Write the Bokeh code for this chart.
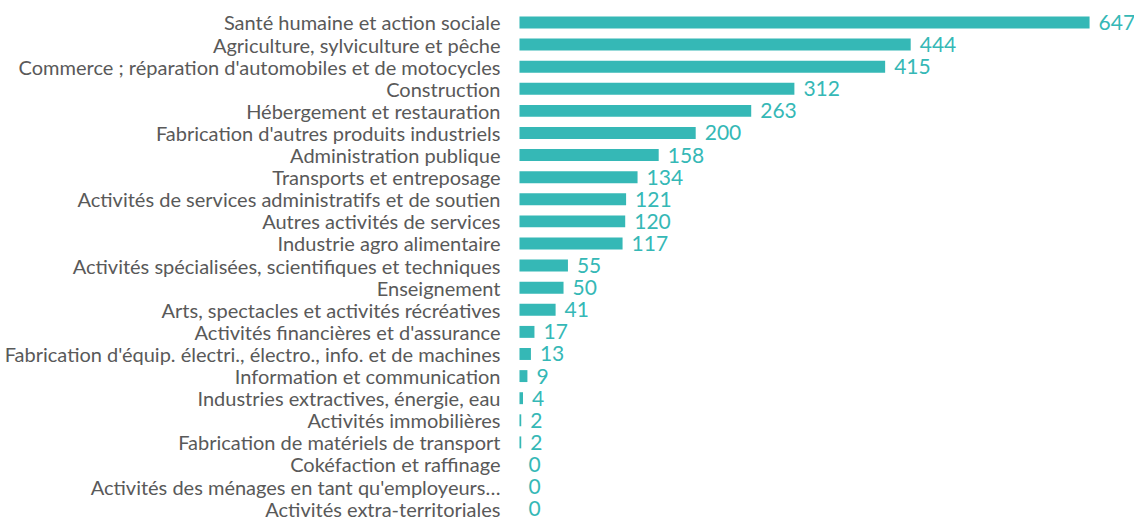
from bokeh.plotting import figure
from bokeh.models import ColumnDataSource, Range1d
from bokeh.core.properties import value
from bokeh.embed import file_html
from bokeh.resources import INLINE

categories = [
    "Santé humaine et action sociale",
    "Agriculture, sylviculture et pêche",
    "Commerce ; réparation d'automobiles et de motocycles",
    "Construction",
    "Hébergement et restauration",
    "Fabrication d'autres produits industriels",
    "Administration publique",
    "Transports et entreposage",
    "Activités de services administratifs et de soutien",
    "Autres activités de services",
    "Industrie agro alimentaire",
    "Activités spécialisées, scientifiques et techniques",
    "Enseignement",
    "Arts, spectacles et activités récréatives",
    "Activités financières et d'assurance",
    "Fabrication d'équip. électri., électro., info. et de machines",
    "Information et communication",
    "Industries extractives, énergie, eau",
    "Activités immobilières",
    "Fabrication de matériels de transport",
    "Cokéfaction et raffinage",
    "Activités des ménages en tant qu'employeurs…",
    "Activités extra-territoriales",
]
values = [647, 444, 415, 312, 263, 200, 158, 134, 121, 120, 117, 55, 50, 41, 17, 13, 9, 4, 2, 2, 0, 0, 0]
value_labels = [str(v) for v in values]

BAR = "#35B8B6"
FONT = "Lato"

rank = list(range(len(categories)))
src = ColumnDataSource(dict(cat=categories, pos=rank, val=values, lab=value_labels, zero=[0] * len(values)))

p = figure(
    width=1134, height=523,
    y_range=Range1d(22.67, -0.995),
    x_range=Range1d(-589, 698),
    output_backend="svg", toolbar_location=None,
    min_border=0, min_border_left=0, min_border_right=0, min_border_top=0, min_border_bottom=0,
)
p.axis.visible = False
p.grid.visible = False
p.outline_line_color = None
p.background_fill_color = "white"

p.hbar(y="pos", left=0, right="val", height=0.54, source=src, fill_color=BAR, line_color=None)

p.text(x="val", y="pos", text="lab", source=src, x_offset=9, text_align="left", text_baseline="middle",
       text_font=value(FONT), text_font_size="21px", text_color=BAR)

p.text(x="zero", y="pos", text="cat", source=src, x_offset=-19, text_align="right", text_baseline="middle",
       text_font=value(FONT), text_font_size="20px", text_color="#595959")

open("out.html", "w").write(file_html(p, INLINE))
